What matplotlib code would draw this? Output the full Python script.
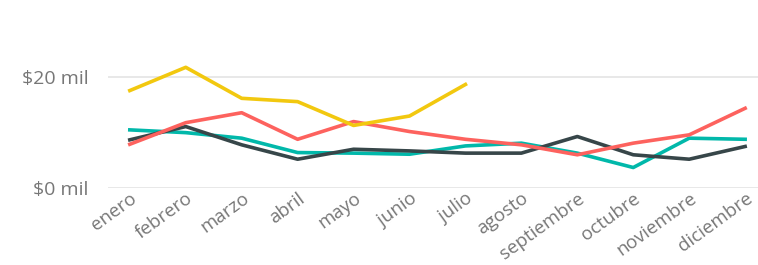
import matplotlib.pyplot as plt

# Data (values in miles de $)
meses = ['enero', 'febrero', 'marzo', 'abril', 'mayo', 'junio', 'julio',
         'agosto', 'septiembre', 'octubre', 'noviembre', 'diciembre']

amarillo = [17.6, 21.8, 16.2, 15.6, 11.3, 13.0, 18.7]
rojo = [7.9, 11.8, 13.6, 8.8, 12.0, 10.2, 8.8, 7.8, 6.0, 8.1, 9.6, 14.4]
turquesa = [10.5, 10.0, 9.0, 6.4, 6.3, 6.1, 7.6, 8.1, 6.3, 3.7, 9.0, 8.8]
gris = [8.7, 11.1, 7.8, 5.2, 7.0, 6.7, 6.3, 6.3, 9.3, 6.0, 5.2, 7.5]

yticks = [0, 20]
ylabels = ['$0 mil', '$20 mil']

plt.rcParams['font.family'] = ['Open Sans', 'DejaVu Sans']

W, H = 758, 265
fig = plt.figure(figsize=(W / 100, H / 100), dpi=100)
# axes placed in pixels: left 108, right 758, bottom (value 0) at y=188
ax = fig.add_axes([108 / W, (H - 188) / H, 650 / W, 138.4 / H])

x = list(range(len(meses)))
ax.plot(x, turquesa, color='#01B8AA', lw=2.6)
ax.plot(x, gris, color='#374649', lw=2.6)
ax.plot(x, rojo, color='#FD625E', lw=2.6)
ax.plot(x[:len(amarillo)], amarillo, color='#F2C80F', lw=2.6)

ax.set_xlim(-0.39, 11.23)
ax.set_ylim(0, 25)

ax.set_yticks(yticks)
ax.set_yticklabels(ylabels, fontsize=14, color='#777777')
ax.set_xticks(x)
ax.set_xticklabels(meses, fontsize=13.5, color='#777777', rotation=36,
                   ha='right', va='top', rotation_mode='anchor')
ax.tick_params(axis='both', length=0)
ax.tick_params(axis='y', pad=14)
ax.tick_params(axis='x', pad=1)

ax.grid(axis='y', color='#E6E6E6', lw=1.3)
ax.set_axisbelow(True)
for s in ax.spines.values():
    s.set_visible(False)

fig.savefig('out.png', dpi=100)
